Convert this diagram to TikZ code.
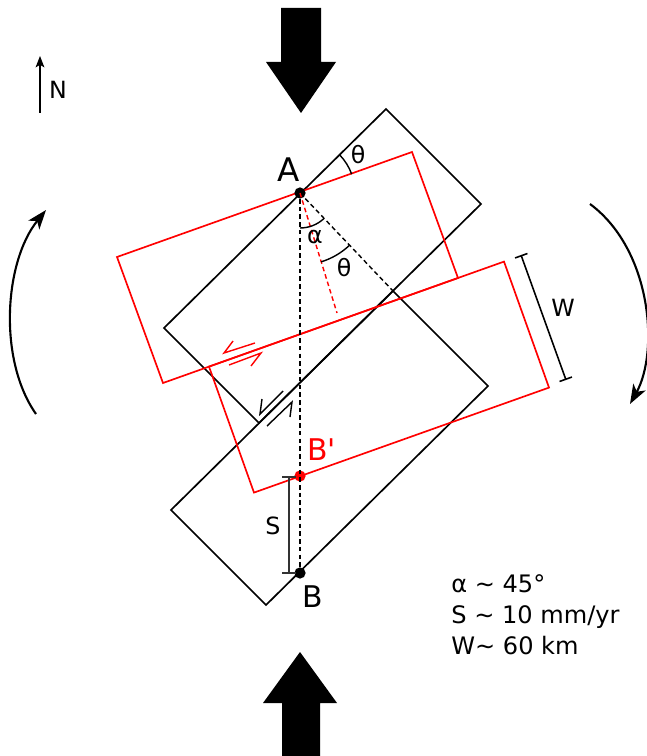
\documentclass[tikz,border=0pt]{standalone}
\usepackage{fontspec}
\setmainfont{DejaVu Sans}
\usetikzlibrary{arrows.meta,calc}
\definecolor{blRed} {RGB}{255,  0,  0}
\definecolor{blGrey}{RGB}{ 51, 51, 51}
\newcommand{\sq}{\XeTeXglyph\XeTeXcharglyph"27\relax}

\begin{document}
\begin{tikzpicture}[
    x=0.02cm,y=-0.02cm,
    every node/.style={inner sep=0pt},
    block/.style={draw=black,line width=0.95pt,line join=miter},
    rblock/.style={draw=blRed,line width=0.95pt,line join=miter},
    guide/.style={line width=0.8pt,dash pattern=on 2.6pt off 1.8pt},
    harp/.style={line width=0.8pt},
    turn/.style={line width=1.2pt,-{Stealth[length=11pt,width=8pt,inset=3pt]}},
    gauge/.style={line width=0.9pt,{Bar[width=7.5pt]}-{Bar[width=7.5pt]}},
    lbl/.style={font=\fontsize{13.5}{15}\selectfont},
    ptlbl/.style={font=\fontsize{18.5}{20}\selectfont},
    dot/.style={circle,fill,minimum size=6.4pt}
  ]
  \useasboundingbox (0,0) rectangle (646,756);
  % compression
  \fill (281,8) -- (321,8) -- (321,62) -- (336,62) -- (301,113)
        -- (266,62) -- (281,62) -- cycle;
  \fill (282,756) -- (320,756) -- (320,703) -- (337,703) -- (300,652)
        -- (263,703) -- (282,703) -- cycle;
  % rotation sense
  \draw[turn] (36,414) .. controls (-2,360) and (4,262) .. (46,210);
  \draw[turn] (590,204) .. controls (652,250) and (659,352) .. (630,404);
  % north
  \draw[line width=0.6pt,-{Stealth[length=6.5pt,width=5pt,inset=1.5pt]}] (40,113) -- (40,56);
  \node[lbl] (north) at (58,90) {N};
  % blocks before rotation
  \coordinate (p1) at (164,328);
  \coordinate (p2) at (386,109);
  \coordinate (p3) at (481,204);
  \coordinate (p4) at (259,423);
  \coordinate (q1) at (171,510);
  \coordinate (q2) at (393,291);
  \coordinate (q3) at (488,386);
  \coordinate (q4) at (266,605);
  \draw[block] (p1) -- (p2) -- (p3) -- (p4) -- cycle;
  \draw[block] (q1) -- (q2) -- (q3) -- (q4) -- cycle;
  % blocks after rotation
  \coordinate (r1) at (117,257);
  \coordinate (r2) at (412,152);
  \coordinate (r3) at (458,278);
  \coordinate (r4) at (163,383);
  \coordinate (s1) at (209,366.6);
  \coordinate (s2) at (504,261.6);
  \coordinate (s3) at (549,387.6);
  \coordinate (s4) at (254,492.6);
  \draw[rblock] (r1) -- (r2) -- (r3) -- (r4) -- cycle;
  \draw[rblock] (s1) -- (s2) -- (s3) -- (s4) -- cycle;
  % points
  \node[dot] (A) at (300,193) {};
  \node[dot] (B) at (300,573) {};
  \node[dot,blRed] (Bp) at (300,476) {};
  \node[ptlbl,anchor=base west] (lA) at (277,182) {A};
  \node[ptlbl,anchor=base west,font=\fontsize{17}{18}\selectfont] (lB) at (302,607) {B};
  \node[ptlbl,anchor=base west,font=\fontsize{17}{18}\selectfont,blRed] (lBp) at (307,460) {B\sq};
  % guides and angles
  \coordinate (nb) at (393,291);
  \coordinate (nr) at (337,313);
  \draw[guide] (A) -- (B);
  \draw[guide] (A.center) -- (nb);
  \draw[guide,blRed] (A.center) -- (nr);
  \draw[line width=0.8pt] ($(A.center)+(90:35)$) arc[start angle=90,end angle=47,radius=35];
  \draw[line width=0.8pt] ($(A.center)+(73:72)$) arc[start angle=73,end angle=47,radius=72];
  \draw[line width=0.8pt] ($(A.center)+(-44:55)$) arc[start angle=-44,end angle=-20,radius=55];
  \node[lbl] (alpha) at (315,237) {α};
  \node[lbl] (th1) at (358,155) {θ};
  \node[lbl] (th2) at (344,268) {θ};
  % slip on faults
  \draw[harp,blRed] (255,343) -- (224,353) -- (233,341);
  \draw[harp,blRed] (229,365) -- (261,353) -- (251,366);
  \draw[harp] (283,391) -- (260,414) -- (262,399);
  \draw[harp] (267,426) -- (292,402) -- (290,417);
  % offsets
  \coordinate (s0) at (289,476);
  \coordinate (s9) at (289,574);
  \draw[gauge,blGrey] (s0) -- (s9);
  \node[lbl] (lS) at (273,526) {S};
  \coordinate (w0) at (521,255);
  \coordinate (w9) at (566,380);
  \draw[gauge] (w0) -- (w9);
  \node[lbl] (lW) at (563,308) {W};
  % values
  \node[lbl,anchor=west,align=left,font=\fontsize{13.7}{17.6}\selectfont] (legend) at (451,615)
    {α \textasciitilde{} 45°\\S \textasciitilde{} 10 mm/yr\\W\textasciitilde{} 60 km};
\end{tikzpicture}
\end{document}
